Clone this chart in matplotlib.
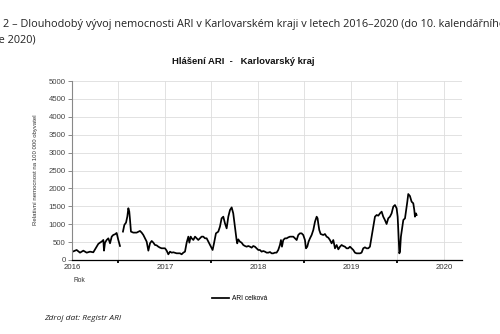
import numpy as np
import matplotlib
matplotlib.use("Agg")
import matplotlib.pyplot as plt

# time in decimal years (as drawn on the axis), value = relative morbidity per 100 000
t = [2016.007, 2016.050, 2016.086, 2016.122, 2016.158, 2016.194, 2016.229, 2016.265,
     2016.283, 2016.301, 2016.319, 2016.337, 2016.344, 2016.355, 2016.373, 2016.391,
     2016.409, 2016.427, 2016.444, 2016.462, 2016.480, 2016.498, 2016.516,
     2016.530,
     2016.548, 2016.563, 2016.581, 2016.595, 2016.606, 2016.616, 2016.624, 2016.634,
     2016.659, 2016.695, 2016.731, 2016.749, 2016.767, 2016.785, 2016.803, 2016.821,
     2016.839, 2016.857, 2016.875, 2016.892, 2016.910, 2016.928, 2016.946, 2016.964,
     2016.982, 2017.000, 2017.018, 2017.036, 2017.054, 2017.072, 2017.090, 2017.125,
     2017.161, 2017.179, 2017.197, 2017.215, 2017.233, 2017.251, 2017.262, 2017.276,
     2017.287, 2017.305, 2017.323, 2017.341, 2017.358, 2017.376, 2017.394, 2017.412,
     2017.430, 2017.448, 2017.466, 2017.484, 2017.502, 2017.512, 2017.527, 2017.548,
     2017.573, 2017.591, 2017.609, 2017.627, 2017.645, 2017.663, 2017.681, 2017.699,
     2017.717, 2017.734, 2017.752, 2017.770, 2017.777, 2017.788, 2017.806, 2017.824,
     2017.842, 2017.860, 2017.878, 2017.896, 2017.914, 2017.932, 2017.949, 2017.967,
     2017.985, 2018.003, 2018.021, 2018.039, 2018.057, 2018.075, 2018.093, 2018.111,
     2018.129, 2018.147, 2018.164, 2018.182, 2018.200, 2018.218, 2018.236, 2018.247,
     2018.258, 2018.272, 2018.290, 2018.308, 2018.326, 2018.344, 2018.362, 2018.380,
     2018.398, 2018.416, 2018.433, 2018.451, 2018.469, 2018.487, 2018.505, 2018.516,
     2018.530, 2018.544, 2018.559, 2018.577, 2018.595, 2018.613, 2018.631, 2018.641,
     2018.648, 2018.659, 2018.674, 2018.702, 2018.720, 2018.738, 2018.756, 2018.774,
     2018.792, 2018.810, 2018.828, 2018.846, 2018.864, 2018.882, 2018.899, 2018.917,
     2018.935, 2018.953, 2018.971, 2018.989, 2019.007, 2019.025, 2019.043, 2019.061,
     2019.079, 2019.097, 2019.114, 2019.132, 2019.150, 2019.168, 2019.186, 2019.204,
     2019.222, 2019.240, 2019.258, 2019.276, 2019.294, 2019.312, 2019.330, 2019.347,
     2019.365, 2019.383, 2019.401, 2019.419, 2019.437, 2019.455, 2019.473, 2019.491,
     2019.502, 2019.509, 2019.520, 2019.527, 2019.537, 2019.552, 2019.563, 2019.581,
     2019.591, 2019.606, 2019.616, 2019.634, 2019.652, 2019.670, 2019.681, 2019.688,
     2019.699, 2019.706]

v = [233, 280, 205, 261, 205, 233, 215, 373,
     450, 485, 513, 560, 261, 485, 560, 606,
     467, 653, 700, 718, 756, 560, 392,
     np.nan,
     793, 980, 1045, 1213, 1446, 1353, 1120, 793,
     765, 765, 812, 765, 700, 606, 513, 261,
     467, 532, 485, 420, 410, 373, 345, 327,
     327, 327, 261, 159, 233, 205, 215, 187,
     187, 159, 205, 233, 485, 653, 485, 653,
     606, 560, 653, 606, 560, 606, 653, 653,
     606, 606, 513, 420, 327, 280, 465, 745,
     792, 931, 1164, 1210, 1024, 884, 1210, 1396,
     1470, 1303, 931, 558, 465, 577, 512, 484,
     419, 391, 372, 391, 372, 344, 391, 372,
     326, 280, 280, 233, 251, 233, 205, 205,
     223, 186, 186, 205, 205, 280, 419, 558,
     372, 558, 605, 605, 633, 652, 652, 652,
     605, 558, 698, 745, 745, 698, 558, 326,
     372, 512, 605, 698, 838, 1070, 1210, 1164,
     1024, 838, 726, 698, 726, 652, 624, 558,
     465, 558, 326, 419, 298, 372, 419, 391,
     372, 326, 326, 372, 326, 280, 205, 186,
     186, 186, 205, 326, 354, 326, 326, 372,
     652, 931, 1210, 1257, 1238, 1303, 1350, 1210,
     1117, 1005, 1164, 1210, 1303, 1490, 1536, 1443,
     1210, 838, 186, 233, 652, 931, 1117, 1164,
     1350, 1629, 1843, 1787, 1629, 1583, 1396, 1210,
     1303, 1257]

year_ticks = [2016, 2017, 2018, 2019, 2020]
year_labels = ["2016", "2017", "2018", "2019", "2020"]
half_ticks = [2016.5, 2017.5, 2018.5, 2019.5]
y_ticks = list(range(0, 5001, 500))

header1 = "2 – Dlouhodobý vývoj nemocnosti ARI v Karlovarském kraji v letech 2016–2020 (do 10. kalendářního"
header2 = "týdne 2020)"
title = "Hlášení ARI  -   Karlovarský kraj"
ylabel = "Relativní nemocnost na 100 000 obyvatel"
xlabel = "Rok"
series_name = "ARI celková"
source = "Zdroj dat: Registr ARI"

plt.rcParams['font.family'] = ['Liberation Sans', 'DejaVu Sans']

W, H = 500, 334
fig = plt.figure(figsize=(W / 100, H / 100), dpi=100)
ax = fig.add_axes([72 / W, 1 - 260 / H, (462 - 72) / W, (260 - 81) / H])

line, = ax.plot(t, v, color='black', lw=1.25, label=series_name)

ax.set_xlim(2016, 2020.194)
ax.set_ylim(0, 5000)
ax.set_xticks(year_ticks)
ax.set_xticklabels(year_labels)
ax.set_xticks(half_ticks, minor=True)
ax.set_yticks(y_ticks)
ax.tick_params(axis='x', which='major', length=0, pad=3, labelsize=5.6, labelcolor='#333333')
ax.tick_params(axis='x', which='minor', length=2, width=1.3, color='black', direction='out')
ax.tick_params(axis='y', length=3, width=0.6, color='#777777', pad=1.5, labelsize=5.6,
               labelcolor='#444444')
ax.grid(True, which='both', color='#dddddd', lw=0.6)
ax.set_axisbelow(True)
for s in ['top', 'right']:
    ax.spines[s].set_visible(False)
ax.spines['left'].set_color('#888888')
ax.spines['left'].set_linewidth(0.8)
ax.spines['bottom'].set_color('black')
ax.spines['bottom'].set_linewidth(0.9)

fig.text(36 / W, 1 - 170 / H, ylabel, rotation=90, ha='center', va='center',
         fontsize=4.3, color='#333333')
fig.text(79 / W, 1 - 280 / H, xlabel, ha='center', va='center', fontsize=4.8, color='#333333')
fig.text(243 / W, 1 - 61 / H, title, ha='center', va='center', fontsize=6.8,
         fontweight='bold', color='#111111')

fig.text(3 / W, 1 - 25 / H, header1, ha='left', va='center', fontsize=7.8,
         family=['Open Sans', 'DejaVu Sans'], color='#222222')
fig.text(36 / W, 1 - 40 / H, header2, ha='right', va='center', fontsize=7.8,
         family=['Open Sans', 'DejaVu Sans'], color='#222222')

fig.legend(handles=[line], loc='center', bbox_to_anchor=(240 / W, 1 - 299 / H),
           frameon=False, fontsize=4.8, handlelength=2.5, handletextpad=0.5,
           borderaxespad=0)

fig.text(44 / W, 1 - 319 / H, source, ha='left', va='center', fontsize=6.0,
         style='italic', family=['Open Sans', 'DejaVu Sans'], color='#222222')

fig.savefig("out.png", dpi=100)
